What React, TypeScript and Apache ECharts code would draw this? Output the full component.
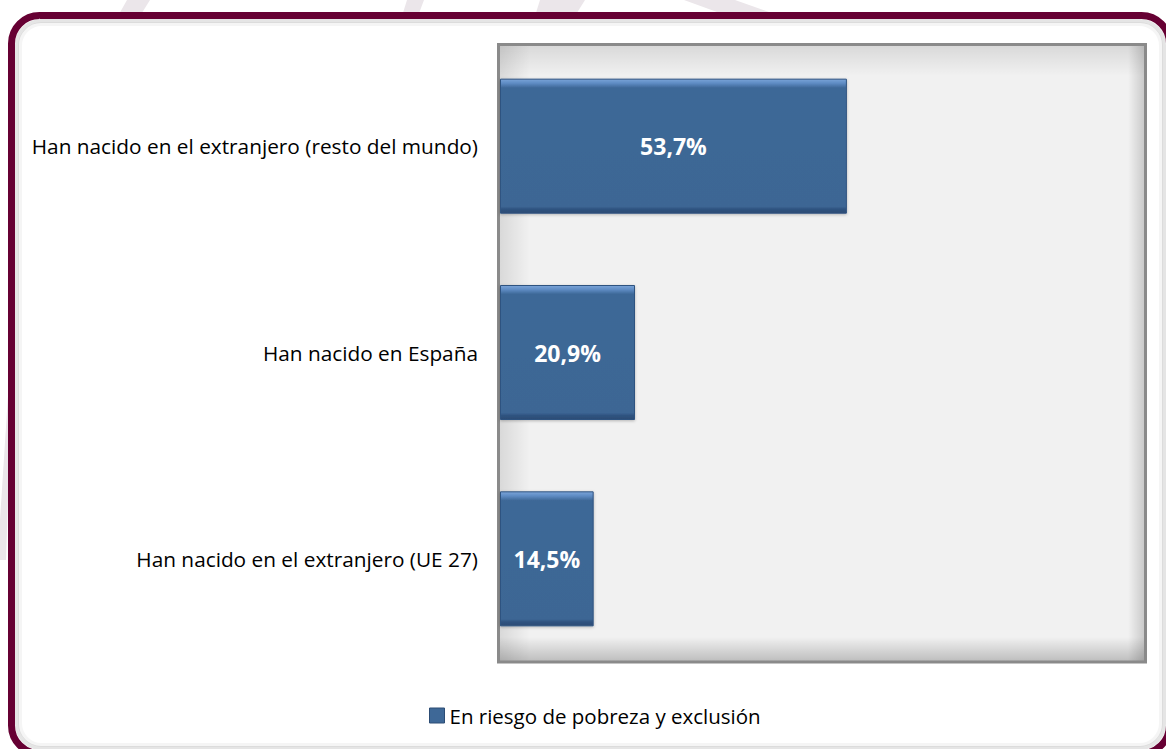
import React, { useEffect, useRef } from "react";
import * as echarts from "echarts";

const categories = [
  "Han nacido en el extranjero (resto del mundo)",
  "Han nacido en España",
  "Han nacido en el extranjero (UE 27)",
];
const values = [53.7, 20.9, 14.5];
const seriesName = "En riesgo de pobreza y exclusión";

const W = 1166;
const H = 749;
const FONT = "'Open Sans', 'Noto Sans', sans-serif";

export default function App() {
  const ref = useRef<HTMLDivElement>(null);
  useEffect(() => {
    document.body.style.margin = "0";
    const chart = echarts.init(ref.current!, undefined, { renderer: "svg", width: W, height: H });
    const gl = 500, gt = 43, gw = 646, gh = 619;
    const shade = (x: number, y: number, w: number, h: number, x2: number, y2: number, c: string) => ({
      type: "rect",
      z: 1,
      silent: true,
      shape: { x, y, width: w, height: h },
      style: {
        fill: new echarts.graphic.LinearGradient(0, 0, x2, y2, [
          { offset: 0, color: c },
          { offset: 1, color: "rgba(0,0,0,0)" },
        ]),
      },
    });
    const barFill = new echarts.graphic.LinearGradient(0, 0, 0, 1, [
      { offset: 0, color: "#7aa4d8" },
      { offset: 0.03, color: "#5f8cc4" },
      { offset: 0.065, color: "#3e6897" },
      { offset: 0.95, color: "#3d6694" },
      { offset: 0.97, color: "#2f5380" },
      { offset: 1, color: "#2c4c74" },
    ]);
    chart.setOption({
      animation: false,
      backgroundColor: "#ffffff",
      graphic: [
        // faint watermark peeking out around the frame
        { type: "polygon", z: -10, silent: true, shape: { points: [[127, 0], [150, 0], [140, 16], [118, 16]] }, style: { fill: "#ebe6ea" } },
        { type: "polygon", z: -10, silent: true, shape: { points: [[407, 0], [424, 0], [418, 16], [402, 16]] }, style: { fill: "#ebe6ea" } },
        { type: "polygon", z: -10, silent: true, shape: { points: [[540, 0], [585, 0], [575, 16], [535, 16]] }, style: { fill: "#ebe6ea" } },
        { type: "polygon", z: -10, silent: true, shape: { points: [[684, 0], [735, 0], [780, 16], [728, 16]] }, style: { fill: "#ebe6ea" } },
        { type: "polygon", z: -10, silent: true, shape: { points: [[9, 380], [12, 380], [6, 560], [0, 560], [0, 520]] }, style: { fill: "#ebe6ea" } },
        // frame
        {
          type: "rect", z: -5, silent: true,
          shape: { x: 11.5, y: 15.5, width: 1158, height: 738, r: 28 },
          style: { fill: "#ffffff", stroke: "#660033", lineWidth: 7 },
        },
        {
          type: "rect", z: -4, silent: true,
          shape: { x: 17, y: 21, width: 1147, height: 727, r: 24 },
          style: { fill: "none", stroke: "rgba(0,0,0,0.10)", lineWidth: 4 },
        },
        {
          type: "rect", z: -4, silent: true,
          shape: { x: 20, y: 24, width: 1141, height: 721, r: 22 },
          style: { fill: "none", stroke: "rgba(0,0,0,0.04)", lineWidth: 4 },
        },
        // plot area inner shading
        shade(gl, gt + 3, gw, 30, 0, 1, "rgba(0,0,0,0.10)"),
        shade(gl, gt, 30, gh, 1, 0, "rgba(0,0,0,0.10)"),
        {
          type: "rect", z: 1, silent: true,
          shape: { x: gl, y: gt + gh - 25, width: gw, height: 25 },
          style: {
            fill: new echarts.graphic.LinearGradient(0, 0, 0, 1, [
              { offset: 0, color: "rgba(0,0,0,0)" },
              { offset: 1, color: "rgba(0,0,0,0.22)" },
            ]),
          },
        },
        {
          type: "rect", z: 1, silent: true,
          shape: { x: gl + gw - 18, y: gt, width: 18, height: gh },
          style: {
            fill: new echarts.graphic.LinearGradient(0, 0, 1, 0, [
              { offset: 0, color: "rgba(0,0,0,0)" },
              { offset: 1, color: "rgba(0,0,0,0.18)" },
            ]),
          },
        },
        {
          type: "rect", z: 1, silent: true,
          shape: { x: gl - 1.5, y: gt + 1.5, width: gw + 1, height: gh - 1.5 },
          style: { fill: "none", stroke: "#8a8a8a", lineWidth: 3 },
        },
      ],
      grid: {
        show: true,
        left: gl, top: gt, width: gw, height: gh,
        backgroundColor: "#f1f1f1",
        borderWidth: 0,
      },
      xAxis: {
        type: "value", min: 0, max: 100,
        axisLabel: { show: false }, axisLine: { show: false }, axisTick: { show: false }, splitLine: { show: false },
      },
      yAxis: {
        type: "category", data: categories, inverse: true,
        axisLine: { show: false }, axisTick: { show: false },
        axisLabel: { color: "#000", fontSize: 20.8, fontFamily: FONT, margin: 22 },
      },
      legend: {
        bottom: 18, left: 424,
        itemWidth: 15, itemHeight: 15, itemGap: 6,
        icon: "rect",
        itemStyle: { color: "#3e6897", borderColor: "#2c4c74", borderWidth: 1 },
        textStyle: { color: "#000", fontSize: 20.5, fontFamily: FONT, padding: [0, 0, 0, 0] },
        data: [seriesName],
      },
      series: [
        {
          name: seriesName,
          type: "bar",
          data: values,
          barWidth: 135,
          itemStyle: {
            color: barFill,
            borderColor: "#2f5380",
            borderWidth: 1,
            shadowColor: "rgba(0,0,0,0.25)",
            shadowBlur: 3,
            shadowOffsetY: 1,
          },
          label: {
            show: true, position: "inside",
            formatter: (p: any) => p.value.toFixed(1).replace(".", ",") + "%",
            color: "#fff", fontSize: 23, fontWeight: "bold", fontFamily: FONT,
          },
        },
      ],
    });
    return () => chart.dispose();
  }, []);
  return <div ref={ref} style={{ position: "absolute", left: 0, top: 0, width: W, height: H }} />;
}
